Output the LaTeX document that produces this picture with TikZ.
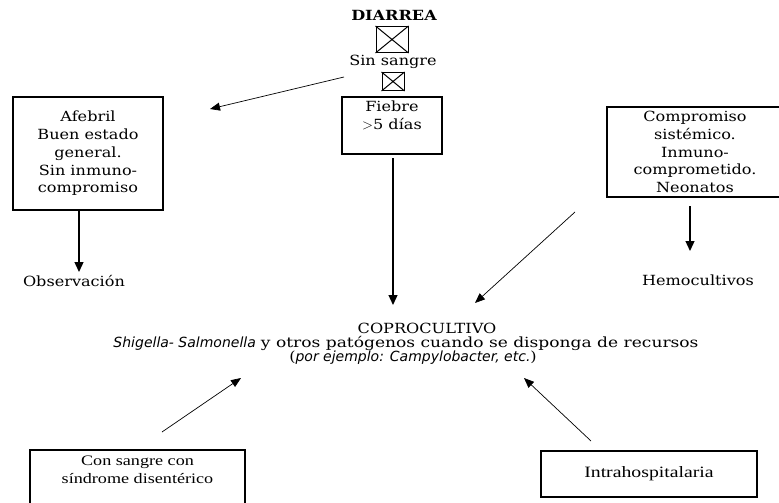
\documentclass[tikz,border=0pt]{standalone}
\usepackage{fontspec}
\setmainfont{DejaVu Serif}[FakeStretch=1.15]
\setsansfont{DejaVu Sans}
\newfontfamily\cajafont{Liberation Serif}[FakeStretch=1.25]
\usetikzlibrary{arrows.meta}

\begin{document}
\begin{tikzpicture}[x=1pt,y=-1pt,
  every node/.style={font=\fontsize{14}{17.7}\selectfont,align=center,inner sep=0pt},
  caja/.style={draw,line width=1.2pt,inner sep=0pt},
  cruz/.style={draw,line width=1pt,inner sep=0pt},
  flecha/.style={-{Triangle[length=10pt,width=9pt]},line width=1.3pt},
  fina/.style={-{Triangle[length=10pt,width=8pt]},line width=0.7pt}]

\useasboundingbox (0,0) rectangle (779,503);
\clip (0,0) rectangle (779,503);

\coordinate (ssA) at (344,77);
\coordinate (ssB) at (210,109);
\coordinate (obB) at (79,272);
\coordinate (fbA) at (393,158);
\coordinate (fbB) at (393,305);
\coordinate (cpA) at (575,212);
\coordinate (cpB) at (475,303);
\coordinate (hmA) at (690,206);
\coordinate (hmB) at (690,251);
\coordinate (csA) at (162,432);
\coordinate (csB) at (241,378);
\coordinate (ihA) at (591,441);
\coordinate (ihB) at (524,378);

% arriba
\node[font=\fontsize{14}{17}\selectfont\bfseries] (diarrea) at (394,15) {DIARREA};
\node[cruz,minimum width=32pt,minimum height=26pt] (cruz1) at (392,39.5) {};
\draw[line width=1pt] (cruz1.north west)--(cruz1.south east) (cruz1.north east)--(cruz1.south west);
\node (sinsangre) at (393,62) {Sin sangre};
\node[cruz,minimum width=22pt,minimum height=18pt] (cruz2) at (393,81.5) {};
\draw[line width=1pt] (cruz2.north west)--(cruz2.south east) (cruz2.north east)--(cruz2.south west);

% cajas
\node[caja,minimum width=100pt,minimum height=57pt] (fiebre) at (392,125.5) {Fiebre\\$>$5 días\\[3pt]};
\node[caja,minimum width=150pt,minimum height=113pt] (afebril) at (88,153.5) {Afebril\\Buen estado\\general.\\Sin inmuno-\\compromiso};
\node[caja,minimum width=183pt,minimum height=90pt,text width=183pt] (sistemico) at (698.5,152) {\hspace*{-7pt}Compromiso\\\hspace*{-7pt}sistémico.\\\hspace*{-7pt}Inmuno-\\\hspace*{-7pt}comprometido.\\\hspace*{-7pt}Neonatos\\[3pt]};
\node[caja,minimum width=215pt,minimum height=62pt,font=\cajafont\fontsize{14.5}{17.5}\selectfont] (sangre) at (137.5,481) {Con sangre con\\síndrome disentérico\\[5pt]};
\node[caja,minimum width=216pt,minimum height=46pt,font=\cajafont\fontsize{15.8}{17.5}\selectfont] (intra) at (649,474) {Intrahospitalaria};

% resultados
\node (obs) at (74,281) {Observación};
\node (hemo) at (698,280) {Hemocultivos};
\node (copro) at (427,328) {COPROCULTIVO};
\node (copro2) at (406,343) {{\sffamily\itshape Shigella- Salmonella} {\addfontfeature{FakeStretch=1.22}y otros patógenos cuando se disponga de recursos}};
\node (copro3) at (413,357.5) {({\sffamily\itshape por ejemplo: Campylobacter, etc.})};

% flechas
\draw[fina] (ssA) -- (ssB);
\draw[flecha] (afebril.south -| obB) -- (obB);
\draw[flecha] (fbA) -- (fbB);
\draw[fina] (cpA) -- (cpB);
\draw[flecha] (hmA) -- (hmB);
\draw[fina] (csA) -- (csB);
\draw[fina] (ihA) -- (ihB);

\end{tikzpicture}
\end{document}
